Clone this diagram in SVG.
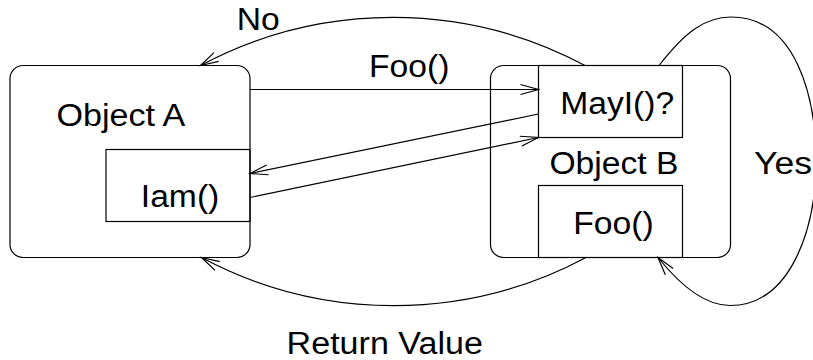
<svg xmlns="http://www.w3.org/2000/svg" width="813" height="360" viewBox="0 0 813 360">
<defs>
<style>
.obj{fill:none;stroke:#000;stroke-width:1.2}
.box{fill:none;stroke:#000;stroke-width:1.2}
.t{font-family:"Liberation Sans",Arial,sans-serif;font-size:31px;fill:#000}
.c{fill:none;stroke:#000;stroke-width:1.2;marker-end:url(#ah)}
</style>
<marker id="ah" markerUnits="userSpaceOnUse" markerWidth="24" markerHeight="14" viewBox="-20 -7 24 14" refX="0" refY="0" orient="auto">
<path d="M-18,-5 L0,0 L-18,5" fill="none" stroke="#000" stroke-width="1.2"/>
</marker>
</defs>
<rect width="813" height="360" fill="#fff"/>
<g id="objectA">
<rect class="obj" x="10" y="65.5" width="240" height="192" rx="13" ry="13"/>
<text class="t" x="56.4" y="126" textLength="129" lengthAdjust="spacingAndGlyphs">Object A</text>
</g>
<g id="iam">
<rect class="box" x="106" y="149.5" width="144" height="72"/>
<text class="t" x="140.8" y="207" textLength="78.5" lengthAdjust="spacingAndGlyphs">Iam()</text>
</g>
<g id="objectB">
<rect class="obj" x="490.5" y="65.5" width="240" height="192" rx="13" ry="13"/>
<text class="t" x="549.4" y="173.5" textLength="129" lengthAdjust="spacingAndGlyphs">Object B</text>
</g>
<g id="mayI">
<rect class="box" x="538.5" y="65.5" width="144" height="72"/>
<text class="t" x="560.2" y="114" textLength="114" lengthAdjust="spacingAndGlyphs">MayI()?</text>
</g>
<g id="fooB">
<rect class="box" x="538.5" y="185.5" width="144" height="72"/>
<text class="t" x="573.3" y="233.5" textLength="80.4" lengthAdjust="spacingAndGlyphs">Foo()</text>
</g>
<g id="connectors">
<path class="c" d="M250,89.5 L538.5,89.5"/>
<path class="c" d="M538.5,114 L250,173.5"/>
<path class="c" d="M250,197.5 L538.5,137.5"/>
<path class="c" d="M585,65.5 A408,408 0 0 0 200.5,65.5"/>
<path class="c" d="M586,257.5 A408,408 0 0 1 201.5,257.5"/>
<path class="c" d="M659,65.5 C685,32 705,17 731,17 C795,17 816,95 816,161 C816,230 790,305.5 730,305.5 C705,305.5 680,285 658,257.5"/>
<text class="t" x="369" y="77" textLength="80.4" lengthAdjust="spacingAndGlyphs">Foo()</text>
<text class="t" x="236.7" y="29.5" textLength="43" lengthAdjust="spacingAndGlyphs">No</text>
<text class="t" x="754" y="173.5" textLength="58" lengthAdjust="spacingAndGlyphs">Yes</text>
<text class="t" x="286.6" y="353.5" textLength="196.3" lengthAdjust="spacingAndGlyphs">Return Value</text>
</g>
</svg>
